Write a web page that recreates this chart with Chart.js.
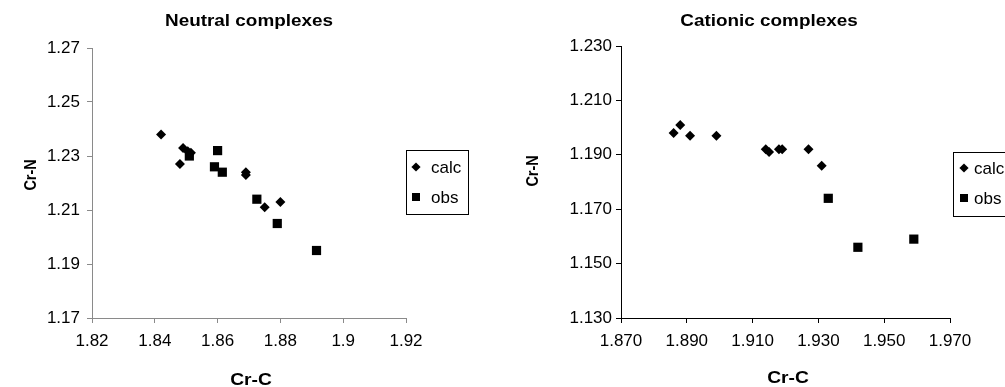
<!DOCTYPE html>
<html>
<head>
<meta charset="utf-8">
<script src="https://cdn.jsdelivr.net/npm/chart.js@4.4.1/dist/chart.umd.min.js"></script>
<style>
  html, body { margin: 0; padding: 0; background: #fff; }
  #wrap { position: relative; width: 1005px; height: 387px; overflow: hidden; background: #fff; }
  #wrap canvas { position: absolute; top: 0; }
</style>
</head>
<body>
<div id="wrap">
  <canvas id="neutral" width="500" height="387" style="left:0px"></canvas>
  <canvas id="cationic" width="505" height="387" style="left:500px"></canvas>
</div>
<script>
// Bond lengths (Å): Cr-C on x, Cr-N on y
const seriesNames = ['calc', 'obs'];
const xTitle = 'Cr-C';
const yTitle = 'Cr-N';

// Neutral complexes
const neutralTitle = 'Neutral complexes';
const neutralCalcX = [1.842, 1.849, 1.8505, 1.8515, 1.848, 1.869, 1.869, 1.875, 1.880];
const neutralCalcY = [1.238, 1.233, 1.2318, 1.2312, 1.227, 1.224, 1.223, 1.211, 1.213];
const neutralObsX  = [1.860, 1.859, 1.8615, 1.851, 1.8725, 1.879, 1.8915];
const neutralObsY  = [1.232, 1.226, 1.224, 1.230, 1.214, 1.205, 1.195];
const neutralXTicks = [1.82, 1.84, 1.86, 1.88, 1.90, 1.92];
const neutralXLabels = ['1.82', '1.84', '1.86', '1.88', '1.9', '1.92'];
const neutralYTicks = [1.17, 1.19, 1.21, 1.23, 1.25, 1.27];
const neutralYLabels = ['1.17', '1.19', '1.21', '1.23', '1.25', '1.27'];

// Cationic complexes
const cationicTitle = 'Cationic complexes';
const cationicCalcX = [1.886, 1.888, 1.891, 1.899, 1.914, 1.915, 1.918, 1.919, 1.927, 1.931];
const cationicCalcY = [1.198, 1.201, 1.197, 1.197, 1.192, 1.191, 1.192, 1.192, 1.192, 1.186];
const cationicObsX  = [1.933, 1.942, 1.959];
const cationicObsY  = [1.174, 1.156, 1.159];
const cationicXTicks = [1.87, 1.89, 1.91, 1.93, 1.95, 1.97];
const cationicXLabels = ['1.870', '1.890', '1.910', '1.930', '1.950', '1.970'];
const cationicYTicks = [1.13, 1.15, 1.17, 1.19, 1.21, 1.23];
const cationicYLabels = ['1.130', '1.150', '1.170', '1.190', '1.210', '1.230'];

const FONT = '"Liberation Sans", Arial, Helvetica, sans-serif';

function toPoints(xs, ys) {
  return xs.map((x, i) => ({ x: x, y: ys[i] }));
}

// bold heading text, stretched a little along its baseline
function wideText(ctx, text, x, y, sx, angle) {
  ctx.save();
  ctx.translate(x, y);
  if (angle) ctx.rotate(angle);
  ctx.scale(sx, 1);
  ctx.fillText(text, 0, 0);
  ctx.restore();
}

// Titles, axis titles and the boxed legend
const decor = {
  id: 'decor',
  afterDraw(chart, args, o) {
    const ctx = chart.ctx;
    ctx.save();
    ctx.fillStyle = '#000';
    ctx.textAlign = 'center';
    ctx.textBaseline = 'alphabetic';

    // chart title and x axis title
    ctx.font = 'bold 16px ' + FONT;
    wideText(ctx, o.title, o.titleX, o.titleY, 1.18, 0);
    wideText(ctx, xTitle, o.xTitleX, o.xTitleY, 1.2, 0);

    // y axis title (rotated)
    ctx.font = 'bold 16px ' + FONT;
    ctx.textBaseline = 'middle';
    wideText(ctx, yTitle, o.yTitleX, o.yTitleY, 0.9, -Math.PI / 2);

    // legend
    const L = o.legend;
    ctx.strokeStyle = '#000';
    ctx.lineWidth = 1;
    ctx.strokeRect(L.x + 0.5, L.y + 0.5, L.w, L.h);
    ctx.font = '17px ' + FONT;
    ctx.textAlign = 'left';
    ctx.textBaseline = 'middle';
    chart.data.datasets.forEach((ds, i) => {
      const cy = L.y + L.rowY[i];
      const cx = L.x + L.markX;
      ctx.beginPath();
      if (ds.pointStyle === 'rectRot') {
        const r = 4.6;
        ctx.moveTo(cx, cy - r);
        ctx.lineTo(cx + r, cy);
        ctx.lineTo(cx, cy + r);
        ctx.lineTo(cx - r, cy);
        ctx.closePath();
      } else {
        const h = 4;
        ctx.rect(cx - h, cy - h, 2 * h, 2 * h);
      }
      ctx.fillStyle = '#000';
      ctx.fill();
      ctx.fillText(ds.label, L.x + L.textX, cy + 1);
    });
    ctx.restore();
  }
};

function makeChart(id, c) {
  const axisFont = { family: FONT, size: 17 };
  return new Chart(document.getElementById(id), {
    type: 'scatter',
    data: {
      datasets: [
        {
          label: seriesNames[0],
          data: toPoints(c.calcX, c.calcY),
          pointStyle: 'rectRot',
          pointRadius: 5,
          pointHoverRadius: 5,
          backgroundColor: '#000',
          borderColor: '#000',
          borderWidth: 0
        },
        {
          label: seriesNames[1],
          data: toPoints(c.obsX, c.obsY),
          pointStyle: 'rect',
          pointRadius: 6.5,
          pointHoverRadius: 6.5,
          backgroundColor: '#000',
          borderColor: '#000',
          borderWidth: 0
        }
      ]
    },
    options: {
      responsive: false,
      animation: false,
      events: [],
      layout: { padding: c.padding },
      plugins: {
        legend: { display: false },
        title: { display: false },
        tooltip: { enabled: false },
        decor: c.decor
      },
      scales: {
        x: {
          type: 'linear',
          min: c.xTicks[0],
          max: c.xTicks[c.xTicks.length - 1],
          afterBuildTicks: s => { s.ticks = c.xTicks.map(v => ({ value: v })); },
          afterFit: s => { s.height = 40; },
          ticks: {
            callback: (v, i) => c.xLabels[i],
            color: '#000',
            font: axisFont,
            padding: 8,
            maxRotation: 0,
            autoSkip: false
          },
          grid: { drawOnChartArea: false, drawTicks: true, tickLength: 5, color: c.axisColor },
          border: { display: true, color: c.axisColor, width: 1 }
        },
        y: {
          type: 'linear',
          min: c.yTicks[0],
          max: c.yTicks[c.yTicks.length - 1],
          afterBuildTicks: s => { s.ticks = c.yTicks.map(v => ({ value: v })); },
          afterFit: s => { s.width = c.yAxisWidth; },
          ticks: {
            callback: (v, i) => c.yLabels[i],
            color: '#000',
            font: axisFont,
            padding: c.yTickPad,
            autoSkip: false
          },
          grid: { drawOnChartArea: false, drawTicks: true, tickLength: 5, color: c.axisColor },
          border: { display: true, color: c.axisColor, width: 1 }
        }
      }
    },
    plugins: [decor]
  });
}

makeChart('neutral', {
  calcX: neutralCalcX, calcY: neutralCalcY, obsX: neutralObsX, obsY: neutralObsY,
  xTicks: neutralXTicks, xLabels: neutralXLabels, yTicks: neutralYTicks, yLabels: neutralYLabels,
  axisColor: '#8a8a8a',
  yAxisWidth: 60,
  yTickPad: 7,
  padding: { left: 32, right: 94, top: 48, bottom: 29 },
  decor: {
    title: neutralTitle, titleX: 249, titleY: 26,
    xTitleX: 251, xTitleY: 385,
    yTitleX: 32, yTitleY: 175,
    legend: { x: 406, y: 150, w: 62, h: 64, markX: 10, textX: 25, rowY: [17, 47] }
  }
});

makeChart('cationic', {
  calcX: cationicCalcX, calcY: cationicCalcY, obsX: cationicObsX, obsY: cationicObsY,
  xTicks: cationicXTicks, xLabels: cationicXLabels, yTicks: cationicYTicks, yLabels: cationicYLabels,
  axisColor: '#000',
  yAxisWidth: 70,
  yTickPad: 4,
  padding: { left: 51, right: 55, top: 46, bottom: 29 },
  decor: {
    title: cationicTitle, titleX: 269, titleY: 26,
    xTitleX: 288, xTitleY: 383,
    yTitleX: 34, yTitleY: 171,
    legend: { x: 453, y: 152, w: 62, h: 64, markX: 11, textX: 21, rowY: [16, 46] }
  }
});
</script>
</body>
</html>
